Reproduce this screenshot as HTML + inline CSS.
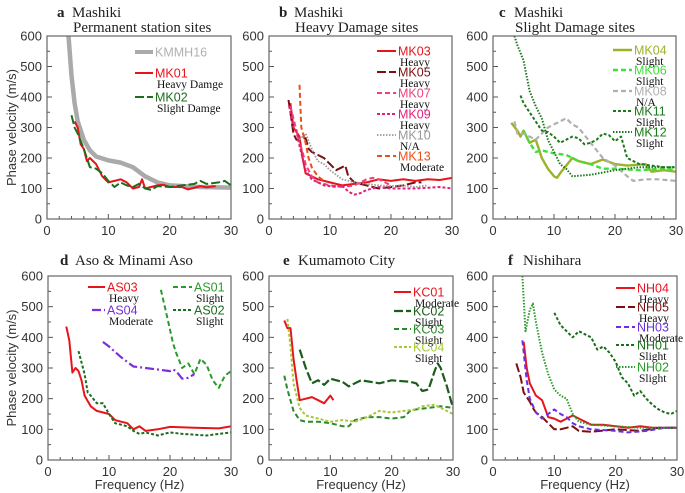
<!DOCTYPE html>
<html><head><meta charset="utf-8"><style>
body{margin:0;background:#fff;}
svg{display:block;}
.tk{font-family:"Liberation Sans",sans-serif;font-size:13px;fill:#333;}
.lg{font-family:"Liberation Sans",sans-serif;font-size:12.5px;}
.sb{font-family:"Liberation Serif",serif;font-size:11.5px;fill:#111;}
.tt{font-family:"Liberation Serif",serif;font-size:15px;fill:#222;}
</style></head><body>
<svg id="chart" width="685" height="493" viewBox="0 0 685 493" xmlns="http://www.w3.org/2000/svg"></svg>
<script>
const xTicks=[0,10,20,30];
const yTicks=[0,100,200,300,400,500,600];
// Panel a
const kmmh16F=[3.5,4,4.5,5,6,7,8,10,12,14,16,18,20,25,30];
const kmmh16V=[600,470,380,320,260,225,205,192,185,170,140,120,110,105,103];
const mk01F=[4.5,5,5.5,6,6.5,7,8,9,10,11,12,13,14,15,15.5,16,18,19,20,22,23,25,26,27.5];
const mk01V=[320,300,245,230,190,200,180,140,120,125,130,120,100,105,130,100,110,112,105,105,97,108,104,108];
const mk02F=[4,4.5,5,6,7,8,9,10,11,12,13,14,15,16,17,18,20,22,24,25,26,28,29,30];
const mk02V=[340,300,280,230,170,165,150,125,105,120,110,105,115,100,95,108,105,110,115,125,115,120,125,110];
// Panel b
const mk03F=[3.5,4,5,5.5,6,7,8,10,12,14,16,18,20,22,24,26,28,30];
const mk03V=[380,300,270,200,150,140,130,120,110,115,120,130,125,130,125,130,128,135];
const mk05F=[3.2,3.5,4,4.5,5,6,6.5,7,8,9,10,11,12,12.5,13,14,16,17,18,20,22,24,25];
const mk05V=[390,350,280,260,260,265,230,220,210,200,180,160,170,175,140,120,110,105,100,105,110,120,120];
const mk07F=[3.5,4,5,5.5,6,7,8,10,12,14,16,17,18,20];
const mk07V=[370,330,250,220,180,140,120,110,105,110,130,135,130,110];
const mk09F=[3.3,4,4.5,5,6,7,9,11,12,13,14,15,16,18,20,24,28,30];
const mk09V=[370,300,290,240,160,130,110,105,110,90,80,85,95,105,100,100,105,100];
const mk10F=[5,6,7,8,9,10,12,14,16,18,20,22,24,26];
const mk10V=[260,280,230,190,180,160,130,120,115,110,108,110,105,110];
const mk13F=[5,5.3,6,6.5,7,8,9];
const mk13V=[440,300,250,200,170,140,125];
// Panel c
const mk04F=[3,4,4.5,5,6,7,7.5,8,9,10,10.5,11,13,14,16,18,20,22,25,26,28,30];
const mk04V=[315,290,270,290,250,260,230,200,165,140,135,150,200,190,180,195,180,175,180,155,160,155];
const mk06F=[5,6,7,8,10,12,14,16,18,20,24,28,30];
const mk06V=[290,250,220,225,215,210,190,180,165,165,160,165,160];
const mk08F=[3.5,4,5,6,7,8,9,10,11,12,13,14,16,18,20,22,23,25,27,30];
const mk08V=[320,280,280,270,260,280,300,310,320,330,310,300,250,200,175,140,125,130,130,125];
const mk11F=[4.5,5,6,7,8,9,10,11,12,13,14,15,16,17,18,19,20,21,22,24,26,28,30];
const mk11V=[405,380,350,320,290,285,270,250,260,270,265,245,250,260,280,275,255,270,200,180,175,170,170];
const mk12F=[3.5,4,5,6,7,8,9,10,11,12,13,16,20,24,28,30];
const mk12V=[600,570,520,420,370,330,260,220,180,165,140,145,160,170,170,170];
// Panel d
const as03F=[3,3.5,4,4.5,5,5.5,6,7,8,10,11,12,13,14,15,16,18,20,24,28,30];
const as03V=[435,390,285,300,290,260,210,175,160,150,130,125,120,100,110,95,100,108,105,103,110];
const as04F=[9,10,12,14,16,18,20,20.5,21,22,23,24];
const as04V=[385,370,335,305,300,295,290,295,290,265,268,280];
const as01F=[18.5,19.5,20.5,21,22,23,24,25,26,27,28,29,30];
const as01V=[555,470,380,350,300,315,280,330,310,260,235,275,290];
const as02F=[5,6,6.5,7,8,9,10,11,12,13,14,15,16,18,20,22,26,30];
const as02V=[355,280,220,210,185,185,150,120,115,110,95,85,90,80,90,85,80,90];
// Panel e
const kc01F=[2.5,3,3.5,4,4.5,5,6,7,8,9,10,10.5];
const kc01V=[455,430,430,330,260,195,200,205,195,185,210,195];
const kc02F=[5,6,7,8,9,10,11,12,13,14,15,18,20,23,24,25,26,27,27.5,28,29,30];
const kc02V=[360,300,250,260,245,265,260,255,240,250,260,250,260,255,250,225,230,290,315,300,240,170];
const kc03F=[2.5,3,4,5,6,8,10,11,12,13,14,16,18,20,22,23,24,26,28,30];
const kc03V=[275,230,160,130,125,125,120,115,110,110,130,140,140,135,140,160,165,170,175,170];
const kc04F=[3,3.5,4,5,6,8,10,12,14,16,18,20,22,24,25,27,30];
const kc04V=[460,370,250,170,145,135,125,130,125,140,160,155,160,165,175,180,150];
// Panel f
const nh04F=[5,5.5,6,7,8,9,10,11,12,13,14,16,18,20,22,24,26,30];
const nh04V=[385,300,250,210,195,140,135,125,135,145,135,115,115,110,105,110,105,105];
const nh05F=[3.8,4.5,5,6,6.5,7,8,9,10,11,12,13,14,16,20,24,27,30];
const nh05V=[315,270,220,190,170,155,140,120,100,100,105,110,95,92,100,95,105,105];
const nh03F=[4.8,5.5,6,7,8,9,10,11,12,13,14,16,20,22,25,28,30];
const nh03V=[390,260,200,155,135,150,165,150,140,120,110,100,95,90,95,105,105];
const nh01F=[10,11,12,13,14,15,16,17,18,19,20,21,22,23,24,25,26,27,28,29,30];
const nh01V=[480,440,420,400,420,410,400,360,370,350,320,270,250,210,225,200,180,165,155,150,160];
const nh02F=[4.8,5.3,6,6.5,7,8,9,10,11,12,13,14,16,20,24,30];
const nh02V=[600,420,490,510,450,350,280,230,210,200,150,125,115,110,105,105];

const NS="http://www.w3.org/2000/svg";
const svg=document.getElementById('chart');
function mk(tag,attrs,parent){const e=document.createElementNS(NS,tag);for(const k in attrs)e.setAttribute(k,attrs[k]);(parent||svg).appendChild(e);return e;}
const DASH={solid:"",long:"9,3",dash:"5,3",short:"3,2",dot:"1.5,1.5",dashdot:"9,3,2,3"};

const panels=[
 {id:'a',L:47,R:231,T:36,B:219,letter:'a',t1:'Mashiki',t2:'Permanent station sites',tx:57,lx:135,tX:155,xl:false,
  series:[
   {name:'KMMH16',f:kmmh16F,v:kmmh16V,c:'#aaaaaa',d:'solid',w:4.5,ly:52,sub:''},
   {name:'MK01',f:mk01F,v:mk01V,c:'#e8141c',d:'solid',w:2,ly:73,sub:'Heavy Damge'},
   {name:'MK02',f:mk02F,v:mk02V,c:'#1b6e1b',d:'long',w:2,ly:97,sub:'Slight Damge'}]},
 {id:'b',L:269,R:452,T:36,B:219,letter:'b',t1:'Mashiki',t2:'Heavy Damage sites',tx:279,lx:377,tX:398,xl:false,
  series:[
   {name:'MK03',f:mk03F,v:mk03V,c:'#e8141c',d:'solid',w:2,ly:51,sub:'Heavy'},
   {name:'MK05',f:mk05F,v:mk05V,c:'#7a1010',d:'long',w:2,ly:72,sub:'Heavy'},
   {name:'MK07',f:mk07F,v:mk07V,c:'#f0407a',d:'dash',w:2,ly:93,sub:'Heavy'},
   {name:'MK09',f:mk09F,v:mk09V,c:'#e0207a',d:'short',w:2,ly:114,sub:'Heavy'},
   {name:'MK10',f:mk10F,v:mk10V,c:'#999999',d:'dot',w:1.8,ly:135,sub:'N/A'},
   {name:'MK13',f:mk13F,v:mk13V,c:'#e8501c',d:'dash',w:2,ly:156,sub:'Moderate'}]},
 {id:'c',L:493,R:676,T:36,B:219,letter:'c',t1:'Mashiki',t2:'Slight Damage sites',tx:499,lx:613,tX:634,xl:false,
  series:[
   {name:'MK04',f:mk04F,v:mk04V,c:'#9cb22a',d:'solid',w:2.4,ly:50,sub:'Slight'},
   {name:'MK06',f:mk06F,v:mk06V,c:'#3ee03a',d:'dash',w:2.4,ly:70,sub:'Slight'},
   {name:'MK08',f:mk08F,v:mk08V,c:'#b0b0b0',d:'dash',w:2.2,ly:91,sub:'N/A'},
   {name:'MK11',f:mk11F,v:mk11V,c:'#1b7a1b',d:'short',w:2,ly:111,sub:'Slight'},
   {name:'MK12',f:mk12F,v:mk12V,c:'#1b7a1b',d:'dot',w:2,ly:132,sub:'Slight'}]},
 {id:'d',L:48,R:231,T:276,B:460,letter:'d',t1:'Aso & Minami Aso',t2:'',tx:60,xl:true,
  series:[
   {name:'AS03',f:as03F,v:as03V,c:'#e8141c',d:'solid',w:2,ly:287,lx:88,tX:107,sub:'Heavy'},
   {name:'AS04',f:as04F,v:as04V,c:'#7b2fd8',d:'dashdot',w:2.2,ly:310,lx:92,tX:107,sub:'Moderate'},
   {name:'AS01',f:as01F,v:as01V,c:'#2a9a2a',d:'dash',w:2,ly:287,lx:173,tX:194,sub:'Slight'},
   {name:'AS02',f:as02F,v:as02V,c:'#1b6e1b',d:'short',w:2,ly:310,lx:173,tX:194,sub:'Slight'}]},
 {id:'e',L:269,R:453,T:276,B:460,letter:'e',t1:'Kumamoto City',t2:'',tx:283,lx:394,tX:413,xl:true,small:true,
  series:[
   {name:'KC01',f:kc01F,v:kc01V,c:'#e8141c',d:'solid',w:2,ly:292,sub:'Moderate'},
   {name:'KC02',f:kc02F,v:kc02V,c:'#1b5e1b',d:'long',w:2.2,ly:311,sub:'Slight'},
   {name:'KC03',f:kc03F,v:kc03V,c:'#2a8a2a',d:'dash',w:2,ly:329,sub:'Slight'},
   {name:'KC04',f:kc04F,v:kc04V,c:'#a8c83a',d:'short',w:2,ly:347,sub:'Slight'}]},
 {id:'f',L:493,R:677,T:276,B:460,letter:'f',t1:'Nishihara',t2:'',tx:508,lx:616,tX:637,xl:true,
  series:[
   {name:'NH04',f:nh04F,v:nh04V,c:'#e8141c',d:'solid',w:2,ly:288,sub:'Heavy'},
   {name:'NH05',f:nh05F,v:nh05V,c:'#7a1010',d:'long',w:2,ly:307,sub:'Heavy'},
   {name:'NH03',f:nh03F,v:nh03V,c:'#6a2fe0',d:'dash',w:2,ly:327,sub:'Moderate'},
   {name:'NH01',f:nh01F,v:nh01V,c:'#1b6e1b',d:'short',w:2,ly:345,sub:'Slight'},
   {name:'NH02',f:nh02F,v:nh02V,c:'#2a9a2a',d:'dot',w:2,ly:367,sub:'Slight'}]}
];

panels.forEach(p=>{
  const g=mk('g',{});
  
  
  const X=f=>p.L+(f/30)*(p.R-p.L);
  const Y=v=>p.B-(v/600)*(p.B-p.T);
  for(let f=0;f<=30;f+=2){const big=f%10===0;mk('line',{x1:X(f),x2:X(f),y1:p.B,y2:p.B-(big?5:3),stroke:'#555','stroke-width':1},g);}
  for(let v=0;v<=600;v+=50){const big=v%100===0;mk('line',{x1:p.L,x2:p.L+(big?5:3),y1:Y(v),y2:Y(v),stroke:'#555','stroke-width':1},g);}
  xTicks.forEach(t=>{const e=mk('text',{x:X(t),y:p.B+16,'text-anchor':'middle',class:'tk'},g);e.textContent=t;
    });
  yTicks.forEach(t=>{const e=mk('text',{x:p.L-5,y:Y(t)+4.5,'text-anchor':'end',class:'tk'},g);e.textContent=t;
    });
  const cp=mk('clipPath',{id:'clip'+p.id},g);mk('rect',{x:p.L,y:p.T,width:p.R-p.L,height:p.B-p.T},cp);
  p.series.forEach(s=>{
    const pts=s.f.map((f,i)=>X(f).toFixed(1)+','+Y(s.v[i]).toFixed(1)).join(' ');
    const pl=mk('polyline',{points:pts,fill:'none',stroke:s.c,'stroke-width':s.w,'stroke-dasharray':DASH[s.d],'stroke-linejoin':'round','clip-path':'url(#clip'+p.id+')'},g);
    
    
    const lx=s.lx!==undefined?s.lx:p.lx, tX=s.tX!==undefined?s.tX:p.tX;
    const ll=mk('line',{x1:lx,x2:tX-2,y1:s.ly,y2:s.ly,stroke:s.c,'stroke-width':Math.min(s.w,4),'stroke-dasharray':DASH[s.d]},g);
    
    
    const lt=mk('text',{x:tX,y:s.ly+4.5,class:'lg',fill:s.c==='#aaaaaa'?'#b0b0b0':s.c},g);lt.textContent=s.name;
    
    
    if(s.sub){const st=mk('text',{x:tX+2,y:s.ly+15,class:'sb'},g);st.textContent=s.sub;
      
      }
  });
  const fr=mk('rect',{x:p.L,y:p.T,width:p.R-p.L,height:p.B-p.T,fill:'none',stroke:'#666','stroke-width':1.2},g);
  
  const ty=p.t2?17:p.T-11;
  const le=mk('text',{x:p.tx,y:ty,class:'tt','font-weight':'bold','font-size':p.small?'14':'16'},g);le.textContent=p.letter;
  
  const t1=mk('text',{x:p.tx+15,y:ty,class:'tt','font-size':p.small?'13.5':'15'},g);t1.textContent=p.t1;
  
  if(p.t2){const t2=mk('text',{x:p.tx+16,y:32,class:'tt'},g);t2.textContent=p.t2;
    }
  if(p.xl){const xt=mk('text',{x:(p.L+p.R)/2,y:489,'text-anchor':'middle',class:'tk','font-size':'13.5'},g);xt.textContent='Frequency (Hz)';
    }
  if(p.id==='a'||p.id==='d'){const cy=(p.T+p.B)/2;const yt=mk('text',{x:16,y:cy,'text-anchor':'middle',class:'tk','font-size':'13.5',transform:'rotate(-90 16 '+cy+')'},g);yt.textContent='Phase velocity (m/s)';
    }
});
</script>
</body></html>
